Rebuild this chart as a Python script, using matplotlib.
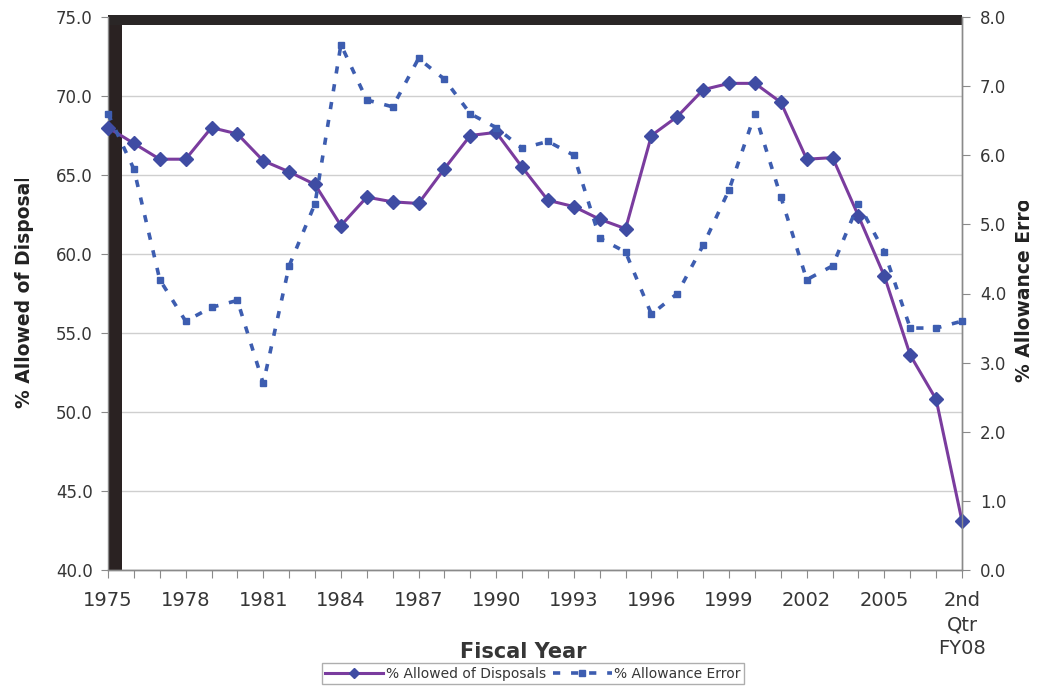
import matplotlib

matplotlib.use("Agg")

import matplotlib.pyplot as plt
from matplotlib.patches import Rectangle
from matplotlib.transforms import Bbox

# categories: fiscal years 1975-2007 plus the partial FY08
years = [str(y) for y in range(1975, 2008)] + ["2nd\nQtr\nFY08"]

pct_allowed = [
    68.0, 67.0, 66.0, 66.0, 68.0, 67.6, 65.9, 65.2, 64.4, 61.8,
    63.6, 63.3, 63.2, 65.4, 67.5, 67.7, 65.5, 63.4, 63.0, 62.2,
    61.6, 67.5, 68.7, 70.4, 70.8, 70.8, 69.6, 66.0, 66.1, 62.4,
    58.6, 53.6, 50.8, 43.1,
]
pct_error = [
    6.6, 5.8, 4.2, 3.6, 3.8, 3.9, 2.7, 4.4, 5.3, 7.6,
    6.8, 6.7, 7.4, 7.1, 6.6, 6.4, 6.1, 6.2, 6.0, 4.8,
    4.6, 3.7, 4.0, 4.7, 5.5, 6.6, 5.4, 4.2, 4.4, 5.3,
    4.6, 3.5, 3.5, 3.6,
]

left_ticks = [40, 45, 50, 55, 60, 65, 70, 75]
right_ticks = [0, 1, 2, 3, 4, 5, 6, 7, 8]

W, H = 1040, 692
fig = plt.figure(figsize=(W / 100, H / 100), dpi=100)
ax = fig.add_axes([108 / W, 1 - 570 / H, (962 - 108) / W, (570 - 17) / H])
ax2 = ax.twinx()

purple = "#7a3c9e"
marker_blue = "#3f4ca3"
dash_blue = "#3d5db0"
txt = "#363636"

x = list(range(len(years)))
ax.plot(x, pct_allowed, color=purple, linewidth=2.2, marker="D",
        markersize=7, markerfacecolor=marker_blue, markeredgecolor=marker_blue,
        zorder=4, clip_on=False, label="% Allowed of Disposals")
ax2.plot(x, pct_error, color=dash_blue, linewidth=2.6, linestyle=(0, (2, 3)),
         marker="s", markersize=5, markerfacecolor=dash_blue,
         markeredgecolor=dash_blue, zorder=3, clip_on=False,
         label="% Allowance Error")

ax.set_xlim(0, len(years) - 1)
ax.set_ylim(40, 75)
ax2.set_ylim(0, 8)
ax.set_yticks(left_ticks)
ax.set_yticklabels([f"{v:.1f}" for v in left_ticks])
ax2.set_yticks(right_ticks)
ax2.set_yticklabels([f"{v:.1f}" for v in right_ticks])
ax.set_xticks(x)
ax.set_xticklabels([lab if i % 3 == 0 or i == len(years) - 1 else ""
                    for i, lab in enumerate(years)], linespacing=1.35)

ax.grid(axis="y", color="#cfcfcf", linewidth=1.0)
ax.set_axisbelow(True)

for a in (ax, ax2):
    for s in a.spines.values():
        s.set_color("#8a8a8a")
        s.set_linewidth(1.0)
ax2.spines["left"].set_visible(False)
ax2.spines["top"].set_visible(False)
ax.spines["top"].set_visible(False)

ax.tick_params(axis="x", direction="out", length=6, color="#8a8a8a",
               labelsize=14, labelcolor=txt, pad=9)
ax.tick_params(axis="y", direction="out", length=5, color="#8a8a8a",
               labelsize=12, labelcolor=txt, pad=6)
ax2.tick_params(axis="y", direction="out", length=6, color="#8a8a8a",
                labelsize=12, labelcolor=txt, pad=7)

# heavy dark frame on the left and top edges of the plot area
ax.add_patch(Rectangle((0, 0), 14 / 854, 1.0 + 2 / 553, transform=ax.transAxes,
                       facecolor="#2a2222", edgecolor="none", zorder=2,
                       clip_on=False))
ax.add_patch(Rectangle((0, 1 - 8 / 553), 1.0, 10 / 553, transform=ax.transAxes,
                       facecolor="#2a2626", edgecolor="none", zorder=2,
                       clip_on=False))

fig.text(523 / W, 1 - 652 / H, "Fiscal Year", ha="center", va="center",
         fontsize=15, fontweight="bold", color=txt)

# axis titles are cut off at the top in the source scan
yl = fig.text(25 / W, 1 - 286 / H, "% Allowed of Disposals", rotation=90,
              ha="center", va="center", fontsize=13.5, fontweight="bold",
              color="#222222")
yl.set_clip_box(Bbox([[0, 0], [W, H - 179]]))
yl.set_clip_on(True)

yr = fig.text(1025 / W, 1 - 286 / H, "% Allowance Error", rotation=90,
              ha="center", va="center", fontsize=13.5, fontweight="bold",
              color="#222222")
yr.set_clip_box(Bbox([[0, 0], [W, H - 201]]))
yr.set_clip_on(True)

h1, l1 = ax.get_legend_handles_labels()
h2, l2 = ax2.get_legend_handles_labels()
leg = fig.legend(h1 + h2, l1 + l2, loc="lower center",
                 bbox_to_anchor=(533 / W, 1 / H), ncol=2, fontsize=10,
                 frameon=True, fancybox=False, edgecolor="#9a9a9a",
                 borderpad=0.25, handlelength=4.2, handletextpad=0.2,
                 columnspacing=0.5, markerscale=0.8)
leg.get_frame().set_linewidth(1.0)
for t in leg.get_texts():
    t.set_color(txt)

fig.savefig("out.png", dpi=100)
plt.close(fig)
